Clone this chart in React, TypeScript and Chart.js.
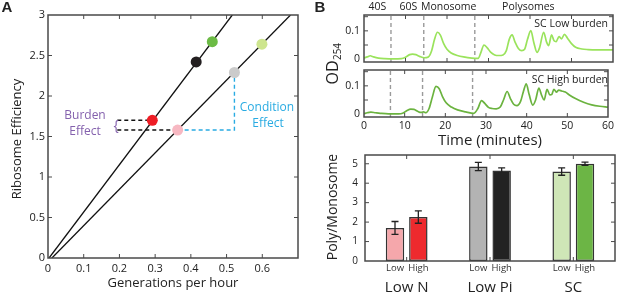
import React, { useEffect, useRef } from 'react';
import { Chart, registerables } from 'chart.js';

Chart.register(...registerables);

const FONT = '"Open Sans", "Noto Sans", sans-serif';
const INK = '#222222';
const FRAME = '#4a4a4a';

// ---------------- Panel A: ribosome efficiency vs growth ----------------
const conditionNames = ['SC High', 'Low Pi High', 'Low N High', 'Low N Low', 'Low Pi Low', 'SC Low'];
const growthRate = [0.46, 0.415, 0.292, 0.363, 0.522, 0.599];
const riboEfficiency = [2.67, 2.42, 1.7, 1.58, 2.29, 2.64];
const pointColors = ['#6cbb45', '#231f20', '#ee1d25', '#f7b8c2', '#cbcbcb', '#cde58e'];
const highBurdenLineX = [0.003, 0.516];
const lowBurdenLineX = [0.011, 0.679];
const fitLineY = [0, 3];
const burdenBracketX = 0.194;
const xTickMarksA = [0.1, 0.2, 0.3, 0.4, 0.5, 0.6];
const yTickMarksA = [0.5, 1, 1.5, 2, 2.5];

// ---------------- Panel B: polysome traces ----------------
const lowTime = [0, 0.8, 1.5, 2.3, 3.5, 5, 7, 9, 10, 11, 11.7, 12.5, 13.5, 14.5, 15.5, 16.3, 17, 17.7, 18.4, 19.2, 20, 21, 22.5, 24, 26, 27.5, 28.2, 28.9, 29.7, 30.5, 31.5, 32.5, 33.5, 34.3, 35, 35.7, 36.4, 37.2, 38, 38.7, 39.4, 40.2, 40.9, 41.7, 42.3, 43.3, 44, 44.5, 45.2, 45.8, 46.3, 47, 47.6, 48.3, 49, 50, 51, 52.5, 54, 56, 58, 60];
const lowOD = [0.004, 0.008, 0.012, 0.008, 0.004, 0.002, 0.001, 0.002, 0.007, 0.016, 0.018, 0.016, 0.009, 0.005, 0.008, 0.03, 0.07, 0.095, 0.085, 0.055, 0.035, 0.022, 0.013, 0.008, 0.004, 0.003, 0.025, 0.05, 0.04, 0.025, 0.015, 0.013, 0.015, 0.03, 0.07, 0.086, 0.06, 0.038, 0.03, 0.035, 0.07, 0.101, 0.06, 0.024, 0.04, 0.095, 0.06, 0.048, 0.086, 0.065, 0.062, 0.08, 0.072, 0.088, 0.075, 0.055, 0.042, 0.036, 0.034, 0.033, 0.033, 0.033];
const highTime = [0, 0.8, 1.7, 2.8, 4, 6, 8.5, 9.5, 10.5, 11.5, 12.3, 13.2, 14, 14.6, 15.2, 16, 16.8, 17.7, 18.5, 19.3, 20.2, 21.5, 23, 25, 27, 28, 28.9, 29.7, 30.6, 31.5, 32.5, 33.5, 34.3, 35.2, 36, 36.8, 37.6, 38.5, 39.2, 39.9, 40.6, 41.5, 42.2, 43, 43.7, 44.3, 45, 45.7, 46.2, 46.7, 47.3, 47.9, 48.6, 49.5, 50.5, 52, 54, 56, 58, 60];
const highOD = [0.002, 0.005, 0.007, 0.005, 0.003, 0.001, 0.001, 0.003, 0.012, 0.018, 0.017, 0.01, 0.006, 0.008, 0.005, 0.02, 0.06, 0.098, 0.09, 0.062, 0.04, 0.025, 0.015, 0.008, 0.003, 0.02, 0.048, 0.038, 0.024, 0.02, 0.019, 0.025, 0.05, 0.08, 0.055, 0.035, 0.03, 0.045, 0.08, 0.107, 0.07, 0.032, 0.05, 0.092, 0.066, 0.05, 0.088, 0.068, 0.07, 0.088, 0.078, 0.085, 0.082, 0.078, 0.068, 0.055, 0.042, 0.033, 0.028, 0.025];
const fractionBoundaries = [6.5, 14.4, 26.7];
const fractionLabels = ['40S', '60S', 'Monosome', 'Polysomes'];
const fractionLabelTime = [3.2, 10.7, 20.4, 39.6];
const traceNames = ['SC Low burden', 'SC High burden'];
const odMin = -0.01;
const odMax = 0.156;
const odTickLabels = [0, 0.1];
const odTickMarks = [0.05, 0.1, 0.15];
const timeTickMarks = [10, 20, 30, 40, 50];

// ---------------- Panel B: poly/monosome bars ----------------
const mediaGroups = ['Low N', 'Low Pi', 'SC'];
const burdenLevels = ['Low', 'High'];
const lowBurdenRatio = [1.7, 4.86, 4.6];
const highBurdenRatio = [2.26, 4.65, 5.0];
const lowBurdenErr = [0.33, 0.21, 0.19];
const highBurdenErr = [0.32, 0.14, 0.08];
const lowBarColors = ['#f5a7ab', '#b3b3b3', '#cfe6b7'];
const highBarColors = ['#ee2a2e', '#222222', '#6cb545'];
const ratioTickMarks = [1, 2, 3, 4, 5];

type TextItem = {
  text: string;
  x: number;
  y: number;
  size?: number;
  color?: string;
  align?: CanvasTextAlign;
  bold?: boolean;
  rotate?: boolean;
  sub?: string;
  family?: string;
};

function drawText(ctx: CanvasRenderingContext2D, it: TextItem) {
  ctx.save();
  const size = it.size ?? 12;
  const fam = it.family ?? FONT;
  ctx.fillStyle = it.color ?? INK;
  ctx.textBaseline = 'middle';
  ctx.translate(it.x, it.y);
  if (it.rotate) ctx.rotate(-Math.PI / 2);
  ctx.font = `${it.bold ? 'bold ' : ''}${size}px ${fam}`;
  if (it.sub) {
    const subSize = size * 0.62;
    const w1 = ctx.measureText(it.text).width;
    ctx.font = `${subSize}px ${fam}`;
    const w2 = ctx.measureText(it.sub).width;
    const start = -(w1 + w2) / 2;
    ctx.textAlign = 'left';
    ctx.font = `${size}px ${fam}`;
    ctx.fillText(it.text, start, 0);
    ctx.font = `${subSize}px ${fam}`;
    ctx.fillText(it.sub, start + w1 + 0.5, size * 0.35);
  } else {
    ctx.textAlign = it.align ?? 'center';
    ctx.fillText(it.text, 0, 0);
  }
  ctx.restore();
}

function makeTextPlugin(getItems: (chart: any) => TextItem[]) {
  return {
    id: 'textItems',
    afterDraw(chart: any) {
      const items = getItems(chart);
      for (const it of items) drawText(chart.ctx, it);
    },
  };
}

function makeFramePlugin(xMarks: number[] | 'category', yMarks: number[]) {
  return {
    id: 'frameBox',
    afterDraw(chart: any) {
      const { ctx, chartArea: a } = chart;
      const xs = chart.scales.x;
      const ys = chart.scales.y;
      ctx.save();
      ctx.strokeStyle = FRAME;
      ctx.lineWidth = 1.5;
      ctx.strokeRect(a.left, a.top, a.right - a.left, a.bottom - a.top);
      const len = 4;
      ctx.lineWidth = 1;
      ctx.beginPath();
      const xPix =
        xMarks === 'category'
          ? xs.ticks.map((_: any, i: number) => xs.getPixelForTick(i))
          : xMarks.map((v) => xs.getPixelForValue(v));
      for (const p of xPix) {
        ctx.moveTo(p, a.bottom);
        ctx.lineTo(p, a.bottom - len);
        ctx.moveTo(p, a.top);
        ctx.lineTo(p, a.top + len);
      }
      for (const v of yMarks) {
        const p = ys.getPixelForValue(v);
        ctx.moveTo(a.left, p);
        ctx.lineTo(a.left + len, p);
        ctx.moveTo(a.right, p);
        ctx.lineTo(a.right - len, p);
      }
      ctx.stroke();
      ctx.restore();
    },
  };
}

const baseOptions = {
  animation: false,
  responsive: false,
  maintainAspectRatio: false,
  events: [],
};

function panelAConfig(): any {
  const pts = growthRate.map((x, i) => ({ x, y: riboEfficiency[i] }));
  const red = 2;
  const pink = 3;
  const gray = 4;
  return {
    type: 'scatter',
    data: {
      datasets: [
        {
          label: 'conditions',
          data: pts,
          pointBackgroundColor: pointColors,
          pointBorderWidth: 0,
          pointRadius: 5.5,
          showLine: false,
        },
        {
          label: 'high burden fit',
          data: [
            { x: highBurdenLineX[0], y: fitLineY[0] },
            { x: highBurdenLineX[1], y: fitLineY[1] },
          ],
          showLine: true,
          borderColor: '#111111',
          borderWidth: 1.3,
          pointRadius: 0,
        },
        {
          label: 'low burden fit',
          data: [
            { x: lowBurdenLineX[0], y: fitLineY[0] },
            { x: lowBurdenLineX[1], y: fitLineY[1] },
          ],
          showLine: true,
          borderColor: '#111111',
          borderWidth: 1.3,
          pointRadius: 0,
        },
        {
          label: 'burden top',
          data: [
            { x: burdenBracketX, y: riboEfficiency[red] },
            { x: growthRate[red], y: riboEfficiency[red] },
          ],
          showLine: true,
          borderColor: '#111111',
          borderDash: [4, 3],
          borderWidth: 1.4,
          pointRadius: 0,
        },
        {
          label: 'burden bottom',
          data: [
            { x: burdenBracketX, y: riboEfficiency[pink] },
            { x: growthRate[pink], y: riboEfficiency[pink] },
          ],
          showLine: true,
          borderColor: '#111111',
          borderDash: [4, 3],
          borderWidth: 1.4,
          pointRadius: 0,
        },
        {
          label: 'condition effect',
          data: [
            { x: growthRate[pink], y: riboEfficiency[pink] },
            { x: growthRate[gray], y: riboEfficiency[pink] },
            { x: growthRate[gray], y: riboEfficiency[gray] },
          ],
          showLine: true,
          borderColor: '#29abe2',
          borderDash: [4, 3],
          borderWidth: 1.4,
          pointRadius: 0,
        },
      ],
    },
    options: {
      ...baseOptions,
      layout: { padding: { left: 0, right: 7, top: 15, bottom: 0 } },
      plugins: { legend: { display: false }, tooltip: { enabled: false } },
      scales: {
        x: {
          type: 'linear',
          min: 0,
          max: 0.7,
          bounds: 'data',
          grid: { display: false, drawTicks: false },
          border: { display: false },
          ticks: {
            stepSize: 0.1,
            includeBounds: false,
            padding: 4,
            maxRotation: 0,
            autoSkip: false,
            color: INK,
            font: { family: FONT, size: 11 },
            callback: (v: number) => (v > 0.65 ? '' : String(Math.round(v * 10) / 10)),
          },
          afterFit: (s: any) => {
            s.height = 38;
          },
        },
        y: {
          type: 'linear',
          min: 0,
          max: 3,
          bounds: 'data',
          grid: { display: false, drawTicks: false },
          border: { display: false },
          ticks: {
            stepSize: 0.5,
            includeBounds: false,
            autoSkip: false,
            padding: 3,
            color: INK,
            font: { family: FONT, size: 11 },
            callback: (v: number) => String(Math.round(v * 10) / 10),
          },
          afterFit: (s: any) => {
            s.width = 48;
          },
        },
      },
    },
    plugins: [
      makeFramePlugin(xTickMarksA, yTickMarksA),
      makeTextPlugin(() => [
        { text: 'A', x: 7, y: 8, size: 15, bold: true, family: 'Liberation Sans, Arial, sans-serif' },
        { text: 'Ribosome Efficiency', x: 17, y: 139, size: 13, rotate: true },
        { text: 'Generations per hour', x: 173, y: 283, size: 13 },
        { text: 'Burden', x: 85, y: 116, size: 12, color: '#8461ad' },
        { text: 'Effect', x: 85, y: 132, size: 12, color: '#8461ad' },
        { text: '{', x: 116, y: 126, size: 14, color: '#8461ad' },
        { text: 'Condition', x: 267, y: 108, size: 12, color: '#29abe2' },
        { text: 'Effect', x: 268, y: 124, size: 12, color: '#29abe2' },
      ]),
    ],
  };
}

function traceConfig(isTop: boolean): any {
  const t = isTop ? lowTime : highTime;
  const v = isTop ? lowOD : highOD;
  const color = isTop ? '#9ae35c' : '#6bb33f';
  const datasets: any[] = [
    {
      label: isTop ? traceNames[0] : traceNames[1],
      data: t.map((x, i) => ({ x, y: v[i] })),
      borderColor: color,
      borderWidth: 1.7,
      pointRadius: 0,
      cubicInterpolationMode: 'monotone',
      fill: false,
    },
    ...fractionBoundaries.map((b) => ({
      label: 'boundary',
      data: [
        { x: b, y: odMin },
        { x: b, y: odMax },
      ],
      borderColor: '#9a9a9a',
      borderDash: [4, 3],
      borderWidth: 1.4,
      pointRadius: 0,
    })),
  ];
  return {
    type: 'line',
    data: { datasets },
    options: {
      ...baseOptions,
      layout: { padding: { left: 64, right: 4, top: isTop ? 15 : 70, bottom: isTop ? 88 : 0 } },
      plugins: { legend: { display: false }, tooltip: { enabled: false } },
      scales: {
        x: {
          type: 'linear',
          min: 0,
          max: 60,
          bounds: 'data',
          display: !isTop,
          grid: { display: false, drawTicks: false },
          border: { display: false },
          ticks: {
            stepSize: 10,
            includeBounds: false,
            padding: 3,
            maxRotation: 0,
            autoSkip: false,
            color: INK,
            font: { family: FONT, size: 10.5 },
          },
          afterFit: (s: any) => {
            s.height = isTop ? 0 : 33;
          },
        },
        y: {
          type: 'linear',
          min: odMin,
          max: odMax,
          bounds: 'data',
          display: false,
        },
      },
    },
    plugins: [
      makeFramePlugin(timeTickMarks, odTickMarks),
      makeTextPlugin((chart: any) => {
        const ys = chart.scales.y;
        const left = chart.chartArea.left;
        const items: TextItem[] = odTickLabels.map((val) => ({
          text: String(val),
          x: left - 4,
          y: ys.getPixelForValue(val),
          size: 10.5,
          align: 'right' as CanvasTextAlign,
        }));
        if (isTop) {
          const xs = chart.scales.x;
          return [
            ...items,
            { text: 'B', x: 20, y: 8, size: 15, bold: true, family: 'Liberation Sans, Arial, sans-serif' },
            ...fractionLabels.map((l, i) => ({
              text: l,
              x: xs.getPixelForValue(fractionLabelTime[i]),
              y: 7,
              size: 10.5,
            })),
            { text: traceNames[0], x: 308, y: 24, size: 10.5, align: 'right' as CanvasTextAlign },
            { text: 'OD', sub: '254', x: 33, y: 64, size: 16, rotate: true },
          ];
        }
        return [
          ...items,
          { text: traceNames[1], x: 308, y: 80, size: 10.5, align: 'right' as CanvasTextAlign },
          { text: 'Time (minutes)', x: 190, y: 141, size: 15 },
        ];
      }),
    ],
  };
}

function barConfig(): any {
  const errs = [lowBurdenErr, highBurdenErr];
  const vals = [lowBurdenRatio, highBurdenRatio];
  const errorBarPlugin = {
    id: 'errorBars',
    afterDatasetsDraw(chart: any) {
      const { ctx } = chart;
      const ys = chart.scales.y;
      ctx.save();
      ctx.strokeStyle = '#222222';
      ctx.lineWidth = 1.3;
      for (let d = 0; d < 2; d++) {
        const meta = chart.getDatasetMeta(d);
        meta.data.forEach((bar: any, j: number) => {
          const x = bar.x;
          const top = ys.getPixelForValue(vals[d][j] + errs[d][j]);
          const bot = ys.getPixelForValue(vals[d][j] - errs[d][j]);
          ctx.beginPath();
          ctx.moveTo(x, top);
          ctx.lineTo(x, bot);
          ctx.moveTo(x - 3.5, top);
          ctx.lineTo(x + 3.5, top);
          ctx.moveTo(x - 3.5, bot);
          ctx.lineTo(x + 3.5, bot);
          ctx.stroke();
        });
      }
      ctx.restore();
    },
  };
  return {
    type: 'bar',
    data: {
      labels: mediaGroups,
      datasets: [
        {
          label: burdenLevels[0],
          data: lowBurdenRatio,
          backgroundColor: lowBarColors,
          borderColor: '#333333',
          borderWidth: 1.5,
          borderSkipped: false,
          categoryPercentage: 0.56,
          barPercentage: 0.79,
        },
        {
          label: burdenLevels[1],
          data: highBurdenRatio,
          backgroundColor: highBarColors,
          borderColor: '#333333',
          borderWidth: 1.5,
          borderSkipped: false,
          categoryPercentage: 0.56,
          barPercentage: 0.79,
        },
      ],
    },
    options: {
      ...baseOptions,
      layout: { padding: { left: 0, right: 2, top: 15, bottom: 0 } },
      plugins: { legend: { display: false }, tooltip: { enabled: false } },
      scales: {
        x: {
          type: 'category',
          grid: { display: false, drawTicks: false },
          border: { display: false },
          ticks: {
            padding: 18,
            maxRotation: 0,
            autoSkip: false,
            color: INK,
            font: { family: FONT, size: 15 },
          },
          afterFit: (s: any) => {
            s.height = 35;
          },
        },
        y: {
          type: 'linear',
          min: 0,
          max: 5.45,
          bounds: 'data',
          grid: { display: false, drawTicks: false },
          border: { display: false },
          ticks: {
            stepSize: 1,
            includeBounds: false,
            autoSkip: false,
            padding: 7,
            color: INK,
            font: { family: FONT, size: 10 },
          },
          afterFit: (s: any) => {
            s.width = 65;
          },
        },
      },
    },
    plugins: [
      errorBarPlugin,
      makeFramePlugin('category', ratioTickMarks),
      makeTextPlugin((chart: any) => {
        const items: TextItem[] = [];
        for (let d = 0; d < 2; d++) {
          const meta = chart.getDatasetMeta(d);
          meta.data.forEach((bar: any) => {
            items.push({ text: burdenLevels[d], x: bar.x, y: 128, size: 9.5, color: '#333333' });
          });
        }
        items.push({ text: 'Poly/Monosome', x: 33, y: 67, size: 14, rotate: true });
        return items;
      }),
    ],
  };
}

function ChartBox(props: { left: number; top: number; width: number; height: number; make: () => any }) {
  const ref = useRef<HTMLCanvasElement | null>(null);
  useEffect(() => {
    if (!ref.current) return;
    const chart = new Chart(ref.current, props.make());
    return () => chart.destroy();
  }, []);
  return (
    <canvas
      ref={ref}
      width={props.width}
      height={props.height}
      style={{
        position: 'absolute',
        left: props.left,
        top: props.top,
        width: props.width,
        height: props.height,
      }}
    />
  );
}

export default function App() {
  return (
    <div
      style={{
        position: 'absolute',
        left: 0,
        top: 0,
        width: 617,
        height: 296,
        background: '#ffffff',
        overflow: 'hidden',
      }}
    >
      <ChartBox left={0} top={0} width={305} height={296} make={panelAConfig} />
      <ChartBox left={300} top={0} width={317} height={150} make={() => traceConfig(false)} />
      <ChartBox left={300} top={0} width={317} height={150} make={() => traceConfig(true)} />
      <ChartBox left={300} top={140} width={317} height={156} make={barConfig} />
    </div>
  );
}
